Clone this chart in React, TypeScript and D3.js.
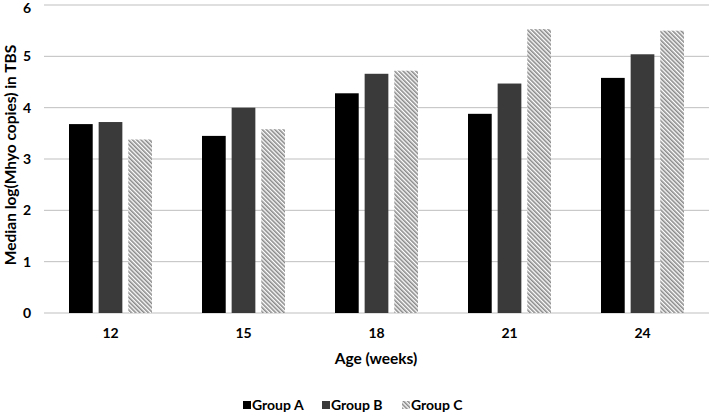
import React from "react";
import * as d3 from "d3";

const categories = ["12", "15", "18", "21", "24"];
const groupA = [3.68, 3.45, 4.28, 3.88, 4.58];
const groupB = [3.72, 4.0, 4.66, 4.47, 5.04];
const groupC = [3.38, 3.58, 4.72, 5.53, 5.5];
const seriesNames = ["Group A", "Group B", "Group C"];
const yTicks = [0, 1, 2, 3, 4, 5, 6];

const W = 709;
const H = 413;
const left = 44;
const right = 709;
const top = 5;
const bottom = 313;
const FONT = "Lato, 'Open Sans', sans-serif";

export default function App() {
  const x = d3.scaleBand<string>().domain(categories).range([left, right]);
  const y = d3.scaleLinear().domain([0, 6]).range([bottom, top]);
  const inner = d3
    .scaleBand<string>()
    .domain(seriesNames)
    .range([25, x.bandwidth() - 25])
    .paddingInner(0.2);
  const series = [groupA, groupB, groupC];
  const fills = ["#000000", "#3a3a3a", "url(#hatch)"];

  const legendX = [243, 322, 402];

  return (
    <svg
      width={W}
      height={H}
      style={{ position: "absolute", left: 0, top: 0, background: "#fff" }}
    >
      <defs>
        <pattern
          id="hatch"
          patternUnits="userSpaceOnUse"
          width={3}
          height={3}
          patternTransform="rotate(-45)"
        >
          <rect width={3} height={3} fill="#ffffff" />
          <rect width={1.6} height={3} fill="#8a8a8a" />
        </pattern>
      </defs>
      <rect x={0} y={0} width={W} height={H} fill="#fff" />
      {yTicks.map((t) => (
        <g key={t}>
          <line
            x1={left}
            x2={right}
            y1={y(t)}
            y2={y(t)}
            stroke="#bfbfbf"
            strokeWidth={1}
          />
          <text
            x={27}
            y={t === 6 ? y(t) + 3 : y(t)}
            dy="0.35em"
            textAnchor="middle"
            fontFamily={FONT}
            fontWeight="bold"
            fontSize={14}
            fill="#000"
          >
            {t}
          </text>
        </g>
      ))}
      {categories.map((c, i) =>
        series.map((s, j) => (
          <rect
            key={c + j}
            x={(x(c) as number) + (inner(seriesNames[j]) as number)}
            width={inner.bandwidth()}
            y={y(s[i])}
            height={bottom - y(s[i])}
            fill={fills[j]}
          />
        ))
      )}
      {categories.map((c) => (
        <text
          key={c}
          x={(x(c) as number) + x.bandwidth() / 2}
          y={333}
          dy="0.35em"
          textAnchor="middle"
          fontFamily={FONT}
          fontWeight="bold"
          fontSize={14}
          fill="#000"
        >
          {c}
        </text>
      ))}
      <text
        x={376}
        y={359}
        dy="0.35em"
        textAnchor="middle"
        fontFamily={FONT}
        fontWeight="bold"
        fontSize={15.5}
        fill="#000"
      >
        Age (weeks)
      </text>
      <text
        transform={`translate(11,155) rotate(-90)`}
        dy="0.35em"
        textAnchor="middle"
        fontFamily={FONT}
        fontWeight="bold"
        fontSize={15.5}
        fill="#000"
      >
        Median log(Mhyo copies) in TBS
      </text>
      {seriesNames.map((n, j) => (
        <g key={n} transform={`translate(${legendX[j]},405)`}>
          <rect x={0} y={-4} width={8} height={8} fill={fills[j]} />
          <text
            x={9}
            y={0}
            dy="0.35em"
            fontFamily={FONT}
            fontWeight="bold"
            fontSize={14}
            fill="#000"
          >
            {n}
          </text>
        </g>
      ))}
    </svg>
  );
}
